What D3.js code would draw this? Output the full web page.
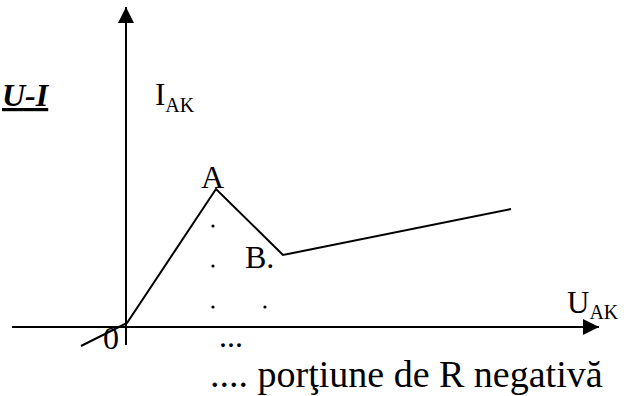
<!DOCTYPE html>
<html>
<head>
<meta charset="utf-8">
<script src="https://cdn.jsdelivr.net/npm/d3@7"></script>
<style>
  body { margin: 0; background: #fff; }
</style>
</head>
<body>
<div id="chart-area"></div>
<script>
// Curve U-I (arbitrary units, 1 unit ~ 10px)
const curveU = [-4.5, 0.1, 9.0, 15.7, 38.5];
const curveI = [-1.9, 0.4, 13.8, 7.2, 11.8];

// Dotted marks under the negative resistance region
const dotU = [8.7, 8.7, 8.7, 13.9];
const dotI = [10.1, 6.1, 2.0, 2.0];

// Axis extents
const axisU = [-11.4, 47.3];
const axisI = [-1.8, 32.0];

// Point labels
const pointLabels = ['A', 'B.', '0'];
const pointLabelU = [7.5, 11.9, -2.3];
const pointLabelI = [13.9, 5.9, -2.2];

const width = 630;
const height = 396;
const serif = "'Liberation Serif'";

const svg = d3.select('#chart-area')
    .append('svg')
    .attr('width', width)
    .attr('height', height);

// Scales: origin at (126, 327)
const x = d3.scaleLinear()
    .domain([0, 10])
    .range([126, 226]);

const y = d3.scaleLinear()
    .domain([0, 10])
    .range([327, 227]);

// Arrow marker
svg.append('defs')
    .append('marker')
    .attr('id', 'arrow')
    .attr('viewBox', '0 0 16 16')
    .attr('refX', 16)
    .attr('refY', 8)
    .attr('markerWidth', 16)
    .attr('markerHeight', 16)
    .attr('markerUnits', 'userSpaceOnUse')
    .attr('orient', 'auto')
    .append('path')
    .attr('d', 'M0,0 L16,8 L0,16 Z')
    .attr('fill', '#000');

// X axis
svg.append('line')
    .attr('x1', x(axisU[0]))
    .attr('x2', x(axisU[1]))
    .attr('y1', y(0))
    .attr('y2', y(0))
    .attr('stroke', '#000')
    .attr('stroke-width', 2)
    .attr('marker-end', 'url(#arrow)');

// Y axis
svg.append('line')
    .attr('x1', x(0))
    .attr('x2', x(0))
    .attr('y1', y(axisI[0]))
    .attr('y2', y(axisI[1]))
    .attr('stroke', '#000')
    .attr('stroke-width', 2)
    .attr('marker-end', 'url(#arrow)');

// Curve
const pts = curveU.map((u, i) => [u, curveI[i]]);
const line = d3.line()
    .x((d) => x(d[0]))
    .y((d) => y(d[1]));

svg.append('path')
    .datum(pts)
    .attr('d', line)
    .attr('fill', 'none')
    .attr('stroke', '#000')
    .attr('stroke-width', 2)
    .attr('stroke-linejoin', 'miter');

// Dots
svg.selectAll('circle.dot')
    .data(dotU.map((u, i) => [u, dotI[i]]))
    .enter()
    .append('circle')
    .attr('class', 'dot')
    .attr('cx', (d) => x(d[0]))
    .attr('cy', (d) => y(d[1]))
    .attr('r', 1.6)
    .attr('fill', '#000');

// Point labels
svg.selectAll('text.pt')
    .data(pointLabels)
    .enter()
    .append('text')
    .attr('class', 'pt')
    .attr('x', (d, i) => x(pointLabelU[i]))
    .attr('y', (d, i) => y(pointLabelI[i]))
    .style('font-family', serif)
    .attr('font-size', '32px')
    .text((d) => d);

// Axis titles
const iLabel = svg.append('text')
    .attr('x', 155)
    .attr('y', 105)
    .style('font-family', serif)
    .attr('font-size', '31px');
iLabel.append('tspan').text('I');
iLabel.append('tspan')
    .attr('font-size', '20px')
    .attr('dy', 7)
    .text('AK');

const uLabel = svg.append('text')
    .attr('x', 567)
    .attr('y', 313)
    .style('font-family', serif)
    .attr('font-size', '31px');
uLabel.append('tspan').text('U');
uLabel.append('tspan')
    .attr('font-size', '20px')
    .attr('dy', 6)
    .text('AK');

// U-I title
svg.append('text')
    .attr('x', 2)
    .attr('y', 106)
    .style('font-family', serif)
    .attr('font-size', '32px')
    .attr('font-weight', 'bold')
    .attr('font-style', 'italic')
    .attr('text-decoration', 'underline')
    .text('U-I');

// Notes under the axis
svg.append('text')
    .attr('x', 219)
    .attr('y', 347)
    .style('font-family', serif)
    .attr('font-size', '32px')
    .text('...');

svg.append('text')
    .attr('x', 210)
    .attr('y', 387)
    .style('font-family', serif)
    .attr('font-size', '38px')
    .text('.... porţiune de R negativă');
</script>
</body>
</html>
